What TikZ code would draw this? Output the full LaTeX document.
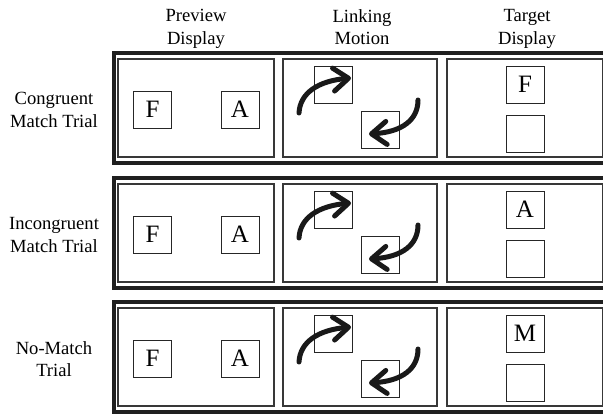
\documentclass[tikz,border=0pt]{standalone}
\usepackage{fontspec}
\setmainfont{Liberation Serif}
\usetikzlibrary{arrows.meta}
\begin{document}
\begin{tikzpicture}[x=1pt,y=-1pt,
  trialbox/.style={draw=black!88, line width=4.2pt, inner sep=0pt},
  panel/.style={draw=black!78, line width=1.2pt, inner sep=0pt, minimum height=98pt},
  sq/.style={draw=black!85, line width=1pt, minimum width=38pt, minimum height=37pt, inner sep=0pt, font=\fontsize{25}{25}\selectfont},
  lbl/.style={align=center, inner sep=0pt, font=\fontsize{18.6}{22.5}\selectfont},
  motion/.style={draw=black!90, line width=5pt, line cap=round, -{Straight Barb[length=15pt, width=23pt, round]}}
]
\useasboundingbox (0,0) rectangle (603,413);
\clip (0,0) rectangle (603,413);
\node[lbl, anchor=north] (hp) at (196,9.3) {Preview\\Display};
\node[lbl, anchor=north] (hl) at (362,9.3) {Linking\\Motion};
\node[lbl, anchor=north] (ht) at (527,9.3) {Target\\Display};
\foreach \r/\yc/\rowtext/\tl in {1/108/{Congruent\\Match Trial}/F, 2/233/{Incongruent\\Match Trial}/A, 3/357/{No-Match\\Trial}/M} {
  \node[trialbox, anchor=west, minimum width=510pt, minimum height=110pt] (row\r) at (112,\yc) {};
  \node[lbl] (lab\r) at (54,\yc+2) {\rowtext};
  \node[panel, minimum width=156pt] (pv\r) at (196,\yc) {};
  \node[panel, minimum width=154pt] (lm\r) at (360,\yc) {};
  \node[panel, minimum width=156pt] (td\r) at (525,\yc) {};
  \node[sq] (pf\r) at (152.5,\yc+1.5) {F};
  \node[sq] (pa\r) at (240,\yc+1.5) {A};
  \node[sq] (mu\r) at (333.5,\yc-23.5) {};
  \node[sq] (ml\r) at (380,\yc+22) {};
  \node[sq] (tu\r) at (525,\yc-23.5) {\tl};
  \node[sq] (tl\r) at (525,\yc+26) {};
  \coordinate (ua\r) at (299,\yc+5);
  \coordinate (ub\r) at (351,\yc-30);
  \coordinate (la\r) at (418,\yc-8);
  \coordinate (lb\r) at (369,\yc+26);
  \draw[motion] (ua\r) .. controls (300,\yc-15) and (318,\yc-27) .. (ub\r);
  \draw[motion] (la\r) .. controls (418,\yc+12) and (402,\yc+24) .. (lb\r);
}
\end{tikzpicture}
\end{document}
